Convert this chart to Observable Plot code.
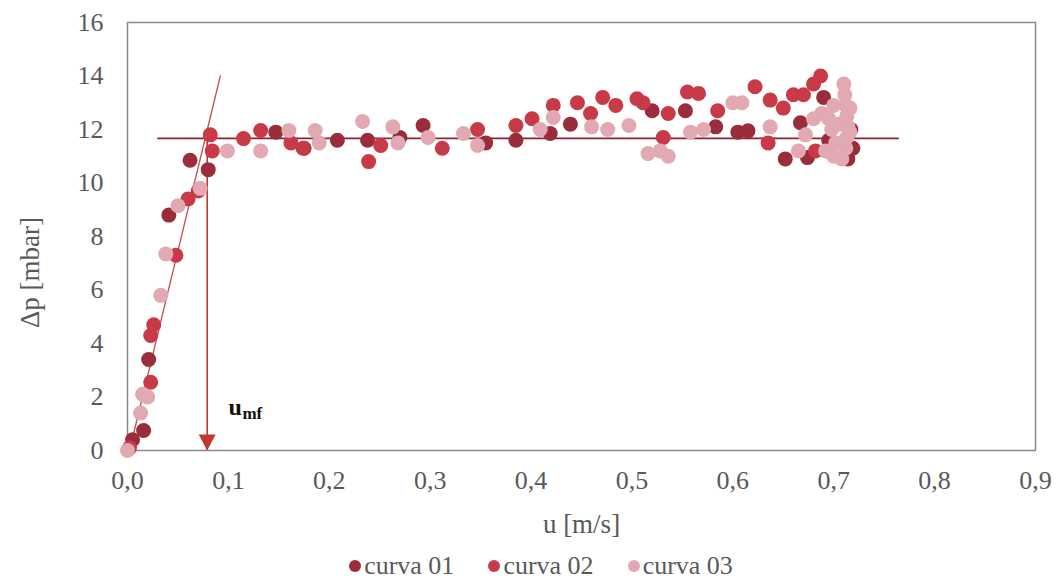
<!DOCTYPE html>
<html>
<head>
<meta charset="utf-8">
<script src="https://cdn.jsdelivr.net/npm/d3@7"></script>
<script src="https://cdn.jsdelivr.net/npm/@observablehq/plot@0.6"></script>
<style>
  html, body { margin: 0; padding: 0; background: #fff; }
  #chart { width: 1058px; }
  #legend { width: 1058px; height: 31px; display: flex; justify-content: center; align-items: center;
    font-family: "Liberation Serif", "Times New Roman", serif; font-size: 26px; color: #595959; padding-left: 24px; box-sizing: border-box; }
  .item { display: flex; align-items: center; margin: 0 17px; }
  .sw { width: 12px; height: 12px; border-radius: 50%; display: inline-block; margin-right: 3px; }
</style>
</head>
<body>
<div id="chart"></div>
<div id="legend"></div>
<script>
// ---- data ----
const seriesNames = ["curva 01", "curva 02", "curva 03"];
const seriesColors = ["#9a2d3b", "#c93a48", "#e2a9b3"];

const c1u = [0.005,0.016,0.021,0.041,0.062,0.080,0.147,0.175,0.208,0.238,0.270,0.293,0.355,0.385,0.419,0.439,0.520,0.553,0.583,0.605,0.615,0.652,0.667,0.674,0.690,0.695,0.714,0.717,0.719];
const c1p = [0.4,0.75,3.4,8.8,10.85,10.5,11.9,11.3,11.6,11.6,11.7,12.15,11.5,11.6,11.85,12.2,12.7,12.7,12.1,11.9,11.95,10.9,12.25,10.95,13.2,11.6,10.9,12.0,11.3];

const c2u = [0.002,0.023,0.023,0.026,0.048,0.060,0.070,0.082,0.084,0.115,0.132,0.162,0.174,0.239,0.251,0.312,0.347,0.385,0.401,0.422,0.446,0.459,0.471,0.484,0.505,0.511,0.531,0.536,0.555,0.566,0.585,0.622,0.637,0.635,0.650,0.660,0.670,0.680,0.687,0.682];
const c2p = [0.1,2.55,4.3,4.7,7.3,9.4,9.7,11.8,11.2,11.66,11.96,11.5,11.3,10.8,11.4,11.3,12.0,12.15,12.4,12.9,13.0,12.6,13.2,12.9,13.15,13.0,11.7,12.6,13.4,13.35,12.7,13.6,13.1,11.5,12.8,13.3,13.3,13.7,14.0,11.2];

const c3u = [0.000,0.013,0.015,0.020,0.033,0.038,0.050,0.072,0.099,0.132,0.160,0.186,0.190,0.233,0.263,0.268,0.298,0.333,0.347,0.409,0.422,0.460,0.476,0.497,0.516,0.528,0.536,0.558,0.571,0.600,0.609,0.637,0.665,0.672,0.680,0.688,0.692,0.695,0.698,0.700,0.700,0.702,0.705,0.708,0.710,0.711,0.712,0.712,0.713,0.713,0.714,0.716,0.716];
const c3p = [0.0,1.4,2.1,2.0,5.8,7.35,9.15,9.8,11.2,11.2,11.96,11.96,11.5,12.3,12.1,11.5,11.7,11.85,11.4,12.0,12.45,12.1,12.0,12.15,11.1,11.2,11.0,11.9,12.0,13.0,13.0,12.1,11.2,11.8,12.4,12.6,11.2,12.4,12.0,12.9,11.0,11.5,12.2,10.9,13.7,13.3,12.9,11.3,12.5,11.7,12.1,12.8,11.9];

// annotation values
const slopeU = [0.002, 0.092];
const slopeP = [0, 14];
const plateau = 11.67;
const plateauU = [0.03, 0.765];
const umf = 0.079;
const labelAt = [umf + 0.021, 1.6];

const xTicks = [0,0.1,0.2,0.3,0.4,0.5,0.6,0.7,0.8,0.9];
const yTicks = [0,2,4,6,8,10,12,14,16];

// ---- build ----
const toPts = (us, ps) => us.map((u, i) => ({u, p: ps[i]}));
const series = [toPts(c1u, c1p), toPts(c2u, c2p), toPts(c3u, c3p)];
const slope = toPts(slopeU, slopeP);

const triDown = {
  draw(ctx, size) {
    const k = Math.sqrt(size) / 10;
    ctx.moveTo(0, 0);
    ctx.lineTo(-8.5 * k, -16 * k);
    ctx.lineTo(8.5 * k, -16 * k);
    ctx.closePath();
  }
};

const serif = "Liberation Serif, Times New Roman, serif";

const chart = Plot.plot({
  width: 1058,
  height: 550,
  marginLeft: 127,
  marginRight: 23,
  marginTop: 22,
  marginBottom: 100,
  style: { fontFamily: serif, fontSize: "26px", color: "#595959", background: "#fff" },
  x: { domain: [0, 0.9], ticks: xTicks, tickFormat: d => d.toFixed(1).replace(".", ","), tickSize: 0, tickPadding: 20, label: null },
  y: { domain: [0, 16], ticks: yTicks, tickSize: 0, tickPadding: 24, label: null },
  marks: [
    Plot.frame({ stroke: "#8a8a8a", strokeWidth: 1.5 }),
    Plot.line(slope, { x: "u", y: "p", stroke: "#c0504d", strokeWidth: 1.3 }),
    Plot.ruleY([plateau], { x1: plateauU[0], x2: plateauU[1], stroke: "#8b2330", strokeWidth: 1.6 }),
    Plot.ruleX([umf], { y1: plateau, y2: 0, stroke: "#c0392b", strokeWidth: 1.6 }),
    Plot.dot([umf], { x: d => d, y: 0, symbol: triDown, r: Math.sqrt(100 / Math.PI), fill: "#c0392b", stroke: "none" }),
    ...series.map((s, i) => Plot.dot(s, { x: "u", y: "p", r: 7.5, fill: seriesColors[i], stroke: "none" })),
    Plot.text([labelAt], { x: d => d[0], y: d => d[1], text: () => "u", textAnchor: "start", fill: "#111", fontSize: 24, fontWeight: "bold", fontFamily: serif }),
    Plot.text([labelAt], { x: d => d[0], y: d => d[1], text: () => "mf", textAnchor: "start", dx: 14, dy: 6, fill: "#111", fontSize: 17, fontWeight: "bold", fontFamily: serif }),
    Plot.text(["Δp [mbar]"], { frameAnchor: "left", text: d => d, rotate: -90, dx: -97, dy: 36, textAnchor: "middle", fill: "#595959", fontSize: 27, fontFamily: serif }),
    Plot.text(["u [m/s]"], { frameAnchor: "bottom", text: d => d, dy: 82, textAnchor: "middle", fill: "#595959", fontSize: 27, fontFamily: serif })
  ]
});
document.getElementById("chart").appendChild(chart);

const legend = document.getElementById("legend");
seriesNames.forEach((name, i) => {
  const item = document.createElement("span");
  item.className = "item";
  const sw = document.createElement("span");
  sw.className = "sw";
  sw.style.background = seriesColors[i];
  item.appendChild(sw);
  item.appendChild(document.createTextNode(name));
  legend.appendChild(item);
});
</script>
</body>
</html>
